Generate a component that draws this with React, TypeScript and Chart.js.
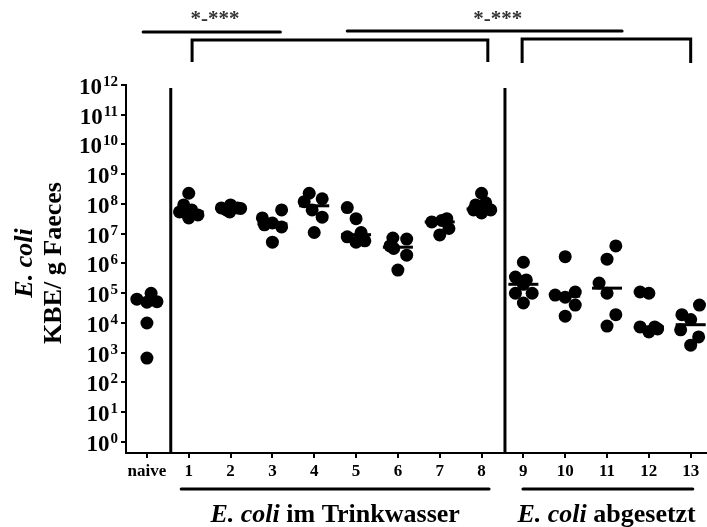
import React, { useEffect, useRef } from "react";
import { Chart, registerables } from "chart.js";

Chart.register(...registerables);

// ---------- data ----------
const categories = ["naive", "1", "2", "3", "4", "5", "6", "7", "8", "9", "10", "11", "12", "13"];

const naive = [6.3e4, 1.0e5, 5.2e4, 5.0e4, 1.0e4, 6.6e2];
const day1 = [2.3e8, 9.3e7, 5.4e7, 6.3e7, 3.4e7, 4.3e7, 5.0e7];
const day2 = [7.4e7, 9.3e7, 7.4e7, 5.4e7, 7.1e7, 6.3e7];
const day3 = [3.4e7, 2.0e7, 2.3e7, 6.3e7, 1.7e7, 5.2e6];
const day4 = [2.3e8, 1.2e8, 1.5e8, 6.3e7, 3.6e7, 1.1e7];
const day5 = [7.6e7, 3.2e7, 1.1e7, 7.9e6, 5.2e6, 5.8e6];
const day6 = [3.9e6, 7.2e6, 6.6e6, 1.9e6, 6.0e5, 3.2e6];
const day7 = [2.5e7, 2.8e7, 3.2e7, 1.5e7, 9.1e6];
const day8 = [2.3e8, 9.3e7, 6.8e7, 6.3e7, 5.0e7, 6.3e7, 1.1e8];
const day9 = [1.1e6, 3.5e5, 2.8e5, 2.0e5, 1.0e5, 1.0e5, 4.7e4];
const day10 = [1.7e6, 8.7e4, 7.4e4, 1.1e5, 4.0e4, 1.7e4];
const day11 = [3.9e6, 1.4e6, 2.2e5, 1.0e5, 1.9e4, 7.9e3];
const day12 = [1.1e5, 1.0e5, 7.4e3, 5.0e3, 7.4e3, 6.3e3];
const day13 = [1.9e4, 1.3e4, 5.9e3, 4.0e4, 3.4e3, 1.8e3];

// horizontal scatter of each dot inside its column (category units)
const jitterNaive = [-0.24, 0.1, 0.24, 0, 0, 0];
const jitter1 = [0, -0.12, -0.22, 0.07, 0, 0.22, -0.07];
const jitter2 = [-0.22, 0, 0.17, -0.02, 0.24, -0.1];
const jitter3 = [-0.24, -0.19, 0, 0.22, 0.22, 0];
const jitter4 = [-0.12, -0.24, 0.19, -0.05, 0.19, 0];
const jitter5 = [-0.21, 0, 0.12, -0.21, 0, 0.21];
const jitter6 = [-0.19, -0.12, 0.21, 0.21, 0, -0.1];
const jitter7 = [-0.19, 0.05, 0.17, 0.22, 0];
const jitter8 = [0, -0.14, 0.17, -0.19, 0, 0.22, 0.1];
const jitter9 = [0, -0.19, 0.07, 0, -0.19, 0.21, 0];
const jitter10 = [0, -0.24, 0, 0.24, 0.24, 0];
const jitter11 = [0.21, 0, -0.19, 0, 0.21, 0];
const jitter12 = [-0.21, 0, -0.21, 0, 0.14, 0.21];
const jitter13 = [-0.21, 0, -0.24, 0.21, 0.19, 0];

const yTickExponents = [0, 1, 2, 3, 4, 5, 6, 7, 8, 9, 10, 11, 12];

const groupTitles = ["im Trinkwasser", "abgesetzt"];
const significance = ["*-***", "*-***"];

const groupValues = [naive, day1, day2, day3, day4, day5, day6, day7, day8, day9, day10, day11, day12, day13];
const groupJitter = [jitterNaive, jitter1, jitter2, jitter3, jitter4, jitter5, jitter6, jitter7, jitter8, jitter9, jitter10, jitter11, jitter12, jitter13];

function median(arr: number[]): number {
  const s = [...arr].sort((a, b) => a - b);
  const m = Math.floor(s.length / 2);
  return s.length % 2 ? s[m] : Math.sqrt(s[m - 1] * s[m]);
}

const SERIF = "'Liberation Serif', 'Times New Roman', serif";

const decorations = {
  id: "decorations",
  afterDraw(chart: any) {
    const ctx: CanvasRenderingContext2D = chart.ctx;
    const xs = chart.scales.x;
    const ys = chart.scales.y;
    const area = chart.chartArea;
    ctx.save();
    ctx.fillStyle = "#000";
    ctx.strokeStyle = "#000";

    // y tick labels 10^n
    yTickExponents.forEach((e) => {
      const py = ys.getPixelForValue(Math.pow(10, e));
      const right = area.left - 8;
      ctx.font = `bold 15px ${SERIF}`;
      const ew = ctx.measureText(String(e)).width;
      ctx.textAlign = "left";
      ctx.textBaseline = "alphabetic";
      ctx.fillText(String(e), right - ew, py + 1);
      ctx.font = `bold 23px ${SERIF}`;
      ctx.textAlign = "right";
      ctx.textBaseline = "middle";
      ctx.fillText("10", right - ew - 1, py + 3);
    });

    // y axis title (two rotated lines)
    const cy = (area.top + area.bottom) / 2 - 6;
    ctx.save();
    ctx.translate(25, cy);
    ctx.rotate(-Math.PI / 2);
    ctx.textAlign = "center";
    ctx.textBaseline = "middle";
    ctx.font = `italic bold 26px ${SERIF}`;
    ctx.fillText("E. coli", 0, 0);
    ctx.restore();
    ctx.save();
    ctx.translate(54, cy);
    ctx.rotate(-Math.PI / 2);
    ctx.textAlign = "center";
    ctx.textBaseline = "middle";
    ctx.font = `bold 26px ${SERIF}`;
    ctx.fillText("KBE/ g Faeces", 0, 0);
    ctx.restore();

    // vertical separators
    ctx.lineWidth = 3;
    [0.57, 8.56].forEach((v) => {
      const px = xs.getPixelForValue(v);
      ctx.beginPath();
      ctx.moveTo(px, ys.getPixelForValue(Math.pow(10, 11.9)));
      ctx.lineTo(px, area.bottom);
      ctx.stroke();
    });

    // significance lines and brackets
    ctx.lineCap = "round";
    ctx.lineWidth = 3;
    const hline = (a: number, b: number, y: number) => {
      ctx.beginPath();
      ctx.moveTo(xs.getPixelForValue(a), y);
      ctx.lineTo(xs.getPixelForValue(b), y);
      ctx.stroke();
    };
    hline(-0.09, 3.19, 32);
    hline(4.79, 11.36, 31);
    const bracket = (a: number, b: number, top: number, bottom: number) => {
      ctx.beginPath();
      ctx.moveTo(xs.getPixelForValue(a), bottom);
      ctx.lineTo(xs.getPixelForValue(a), top);
      ctx.lineTo(xs.getPixelForValue(b), top);
      ctx.lineTo(xs.getPixelForValue(b), bottom);
      ctx.stroke();
    };
    ctx.lineCap = "butt";
    bracket(1.08, 8.15, 40, 62);
    bracket(8.97, 13.0, 39, 63);

    ctx.fillStyle = "#333";
    ctx.font = `bold 21px ${SERIF}`;
    ctx.textAlign = "center";
    ctx.textBaseline = "middle";
    ctx.fillText(significance[0], xs.getPixelForValue(1.63), 20);
    ctx.fillText(significance[1], xs.getPixelForValue(8.39), 20);

    // group underlines
    ctx.fillStyle = "#000";
    ctx.lineCap = "round";
    hline(0.82, 8.18, 489);
    hline(8.99, 13.05, 489);

    // group titles
    const drawTitle = (center: number, rest: string) => {
      ctx.font = `italic bold 26px ${SERIF}`;
      const w1 = ctx.measureText("E. coli ").width;
      ctx.font = `bold 26px ${SERIF}`;
      const w2 = ctx.measureText(rest).width;
      const start = xs.getPixelForValue(center) - (w1 + w2) / 2;
      ctx.textAlign = "left";
      ctx.textBaseline = "alphabetic";
      ctx.font = `italic bold 26px ${SERIF}`;
      ctx.fillText("E. coli ", start, 522);
      ctx.font = `bold 26px ${SERIF}`;
      ctx.fillText(rest, start + w1, 522);
    };
    drawTitle(4.5, groupTitles[0]);
    drawTitle(10.99, groupTitles[1]);

    ctx.restore();
  },
};

export default function App() {
  const ref = useRef<HTMLCanvasElement | null>(null);

  useEffect(() => {
    if (!ref.current) return;
    const dotSets = groupValues.map((vals, i) => ({
      type: "scatter" as const,
      label: categories[i],
      data: vals.map((v, k) => ({ x: i + groupJitter[i][k], y: v })),
      pointRadius: 6.5,
      pointHoverRadius: 6.5,
      backgroundColor: "#000",
      borderWidth: 0,
      clip: false as any,
    }));
    const medianSet = {
      type: "scatter" as const,
      label: "Median",
      data: groupValues.map((vals, i) => ({ x: i, y: median(vals) })),
      pointStyle: "line" as const,
      pointRadius: 15,
      pointHoverRadius: 15,
      borderColor: "#000",
      borderWidth: 3,
      backgroundColor: "#000",
      clip: false as any,
    };

    const chart = new Chart(ref.current, {
      type: "scatter",
      data: { datasets: [...dotSets, medianSet] as any },
      options: {
        animation: false,
        responsive: false,
        maintainAspectRatio: false,
        layout: { autoPadding: false, padding: { top: 85, right: 0, left: 0, bottom: 0 } },
        plugins: { legend: { display: false }, tooltip: { enabled: false } },
        scales: {
          x: {
            type: "linear",
            min: -0.5,
            max: 13.39,
            afterBuildTicks: (scale: any) => {
              scale.ticks = categories.map((_, i) => ({ value: i }));
            },
            afterFit: (scale: any) => {
              scale.height = 74;
              scale.paddingLeft = 0;
              scale.paddingRight = 0;
            },
            ticks: {
              autoSkip: false,
              maxRotation: 0,
              padding: 3,
              color: "#000",
              font: { family: SERIF, size: 17, weight: "bold" },
              callback: (v: any) => categories[Math.round(Number(v))] ?? "",
            },
            grid: { drawOnChartArea: false, drawTicks: true, tickLength: 5, color: "#000", lineWidth: 2 },
            border: { display: true, color: "#000", width: 2 },
          },
          y: {
            type: "logarithmic",
            min: Math.pow(10, -0.37),
            max: 1e12,
            afterBuildTicks: (scale: any) => {
              scale.ticks = yTickExponents.map((e) => ({ value: Math.pow(10, e) }));
            },
            afterFit: (scale: any) => {
              scale.width = 126;
              scale.paddingTop = 0;
              scale.paddingBottom = 0;
            },
            ticks: { display: false },
            grid: { drawOnChartArea: false, drawTicks: true, tickLength: 5, color: "#000", lineWidth: 2 },
            border: { display: true, color: "#000", width: 2 },
          },
        },
      },
      plugins: [decorations],
    });
    return () => chart.destroy();
  }, []);

  return (
    <div style={{ position: "absolute", left: 0, top: 0, width: 707, height: 527, background: "#fff" }}>
      <canvas ref={ref} width={707} height={527} style={{ display: "block" }} />
    </div>
  );
}
